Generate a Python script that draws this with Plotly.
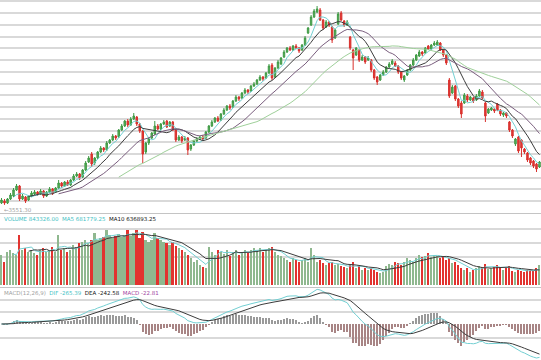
import pandas as pd
import plotly.graph_objects as go

opens = [
    3570,3590,3570,3610,3640,3700,3740,3610,3630,3600,
    3640,3660,3680,3660,3690,3640,3680,3710,3680,3720,
    3770,3740,3780,3750,3800,3840,3860,3830,3900,3980,
    4060,3970,4020,4080,4120,4100,4170,4200,4240,4230,
    4300,4340,4390,4350,4410,4430,4360,4290,4080,4170,
    4220,4260,4340,4310,4360,4390,4340,4380,4300,4200,
    4230,4200,4220,4110,4150,4190,4210,4230,4220,4280,
    4340,4380,4420,4400,4460,4500,4540,4530,4590,4630,
    4620,4670,4700,4690,4740,4760,4800,4830,4820,4870,
    4950,4830,4920,4960,5030,5080,5120,5100,5140,5120,
    5100,5150,5270,5350,5430,5480,5500,5400,5330,5380,
    5330,5220,5360,5470,5390,5350,5230,5100,5050,5100,
    5000,5030,5000,5000,4900,4830,4800,4850,4880,4930,
    4960,4970,4940,4880,4800,4850,4900,4950,5000,5040,
    5080,5070,5140,5110,5150,5150,5170,5100,5050,4800,
    4670,4740,4610,4570,4570,4640,4600,4620,4600,4640,
    4680,4570,4470,4500,4510,4560,4500,4450,4470,4380,
    4300,4160,4230,4200,4110,4070,4020,3990,3960,3930,
]
closes = [
    3600,3570,3610,3650,3700,3740,3610,3640,3590,3640,
    3670,3680,3660,3690,3640,3680,3710,3670,3720,3770,
    3740,3780,3750,3800,3840,3860,3820,3900,3970,4020,
    3960,4020,4080,4120,4100,4170,4200,4240,4220,4300,
    4340,4390,4350,4410,4440,4360,4290,4060,4170,4220,
    4270,4340,4310,4360,4380,4330,4380,4300,4200,4230,
    4190,4220,4100,4150,4190,4210,4230,4210,4280,4340,
    4380,4420,4390,4460,4500,4540,4520,4590,4630,4610,
    4670,4700,4680,4740,4760,4800,4830,4810,4870,4940,
    4820,4920,4980,5020,5080,5120,5100,5140,5120,5090,
    5150,5220,5320,5430,5490,5510,5400,5320,5380,5350,
    5200,5300,5460,5400,5350,5380,5120,5020,5120,5000,
    5030,4980,5020,4900,4820,4780,4850,4880,4930,4960,
    4990,4940,4880,4820,4840,4900,4950,5000,5050,5080,
    5060,5120,5110,5150,5170,5180,5100,5050,4970,4640,
    4730,4610,4540,4460,4650,4600,4630,4590,4640,4690,
    4620,4440,4510,4520,4490,4500,4460,4470,4440,4300,
    4240,4210,4090,4120,4080,4000,3970,3940,3910,3980,
]
highs = [
    3620,3610,3620,3670,3720,3760,3750,3660,3640,3650,
    3690,3700,3690,3710,3700,3690,3730,3720,3730,3800,
    3780,3790,3800,3810,3860,3880,3870,3910,3990,4040,
    4080,4030,4090,4140,4130,4190,4210,4260,4250,4310,
    4360,4400,4410,4430,4470,4440,4370,4300,4180,4230,
    4280,4390,4360,4370,4400,4400,4390,4390,4310,4250,
    4240,4240,4230,4160,4200,4230,4240,4250,4290,4350,
    4400,4430,4440,4470,4520,4550,4560,4600,4650,4640,
    4680,4720,4710,4750,4780,4810,4850,4840,4880,4960,
    4970,4930,5000,5030,5100,5130,5140,5150,5160,5130,
    5160,5240,5330,5450,5510,5540,5520,5410,5400,5390,
    5340,5310,5480,5490,5400,5400,5240,5110,5130,5110,
    5050,5040,5040,5010,4910,4840,4860,4900,4940,4980,
    5010,4990,4950,4890,4850,4910,4960,5020,5060,5100,
    5090,5130,5150,5160,5190,5200,5180,5110,5060,4820,
    4750,4750,4620,4590,4670,4660,4640,4630,4660,4710,
    4700,4580,4520,4530,4520,4570,4510,4480,4480,4390,
    4310,4220,4240,4210,4120,4080,4030,4000,3970,3990,
]
lows = [
    3560,3551.3,3560,3600,3630,3690,3590,3600,3570,3590,
    3630,3650,3640,3650,3620,3630,3670,3650,3670,3710,
    3720,3730,3740,3740,3790,3830,3800,3820,3890,3970,
    3930,3950,4010,4070,4080,4090,4160,4190,4200,4220,
    4290,4330,4330,4340,4400,4340,4270,3970,4060,4150,
    4210,4250,4300,4300,4350,4320,4330,4290,4180,4190,
    4170,4190,4050,4090,4140,4180,4200,4200,4210,4270,
    4330,4370,4380,4390,4450,4490,4500,4520,4580,4590,
    4610,4660,4660,4680,4730,4750,4790,4790,4810,4860,
    4800,4820,4910,4950,5020,5070,5090,5090,5110,5070,
    5090,5140,5260,5340,5420,5470,5390,5300,5320,5330,
    5170,5210,5350,5390,5330,5340,5100,4900,5040,4980,
    4990,4960,4990,4880,4800,4750,4790,4840,4870,4920,
    4950,4930,4860,4800,4780,4840,4890,4940,4990,5030,
    5040,5060,5100,5100,5140,5140,5090,5030,4950,4620,
    4660,4590,4520,4420,4560,4580,4590,4570,4590,4630,
    4610,4380,4460,4490,4470,4490,4440,4430,4420,4280,
    4220,4140,4070,4030,4060,3980,3950,3920,3880,3920,
]
# volume, thousands
volumes = [
    1260,966,1386,1470,1344,1260,2100,1470,1554,1386,
    1470,1344,1260,1470,1554,1386,1470,1596,1386,2100,
    1470,1554,1386,1470,1680,1596,1764,1806,1890,1764,
    1890,2184,1890,1974,2016,2310,2100,1974,2058,2142,
    2016,2100,2310,2058,2184,2310,1974,2226,1890,1806,
    1890,2184,1974,1890,1806,1764,1680,1806,1638,1554,
    1470,1386,1260,1134,966,1050,840,756,714,1596,
    1386,1260,1470,1386,1302,1470,1218,1386,1470,1260,
    1386,1470,1344,1470,1554,1470,1554,1386,1470,1554,
    1596,1386,1260,1218,1134,1050,966,1134,1050,966,
    1050,1134,966,1554,1260,966,1050,924,840,924,
    966,840,882,798,756,714,840,966,714,798,
    630,714,630,714,630,546,504,546,798,882,
    840,966,924,840,966,1134,1050,966,1134,1260,
    1176,1218,1344,1176,1260,1218,1134,1176,1050,1134,
    924,966,840,714,630,714,546,630,714,798,
    760,900,660,720,760,820,740,650,720,800,
    600,560,640,590,560,620,640,600,710,843.326,
]

vol_label = ('<span style="color:#3fbfc4">VOLUME 843326.00</span>  '
             '<span style="color:#3fbfc4">MA5 681779.25</span>  '
             '<span style="color:#111111">MA10 636893.25</span>')
macd_label = ('<span style="color:#a0a0a0">MACD(12,26,9)</span>  '
              '<span style="color:#3fbfc4">DIF -265.39</span>  '
              '<span style="color:#111111">DEA -242.58</span>  '
              '<span style="color:#a23fa2">MACD -22.81</span>')
low_label = "←3551.30"

n = len(closes)
x = list(range(n))
cs = pd.Series(closes, dtype=float)
vs = pd.Series(volumes, dtype=float)
ma_specs = [(5, "#72cfd2"), (10, "#3c3c3c"), (20, "#7a5e7e"), (40, "#9fd09a")]
vma5 = vs.rolling(5).mean()
vma10 = vs.rolling(10).mean()
ema12 = cs.ewm(span=12, adjust=False).mean()
ema26 = cs.ewm(span=26, adjust=False).mean()
dif = ema12 - ema26
dea = dif.ewm(span=9, adjust=False).mean()
hist = 2 * (dif - dea)

up = [c >= o for o, c in zip(opens, closes)]
vol_colors = ["#8fb88f" if u else "#e2332f" for u in up]
hist_colors = ["#9a9a9a" if h >= 0 else "#a88585" for h in hist]

fig = go.Figure()
fig.add_trace(go.Candlestick(
    x=x, open=opens, high=highs, low=lows, close=closes,
    increasing=dict(line=dict(color="#3f9a45", width=1), fillcolor="#5fb062"),
    decreasing=dict(line=dict(color="#d8302c", width=1), fillcolor="#e23a36"),
    whiskerwidth=0, hoverinfo="skip", showlegend=False,
    xaxis="x", yaxis="y"))
for w, col in ma_specs:
    fig.add_trace(go.Scatter(x=x, y=cs.rolling(w).mean(), mode="lines",
                             line=dict(color=col, width=1), hoverinfo="skip",
                             showlegend=False, xaxis="x", yaxis="y"))

fig.add_trace(go.Bar(x=x, y=volumes, marker=dict(color=vol_colors, line=dict(width=0)),
                     width=0.55, showlegend=False, hoverinfo="skip",
                     xaxis="x2", yaxis="y2"))
fig.add_trace(go.Scatter(x=x, y=vma5, mode="lines", line=dict(color="#72cfd2", width=1),
                         showlegend=False, hoverinfo="skip", xaxis="x2", yaxis="y2"))
fig.add_trace(go.Scatter(x=x, y=vma10, mode="lines", line=dict(color="#3c3c3c", width=1),
                         showlegend=False, hoverinfo="skip", xaxis="x2", yaxis="y2"))

fig.add_trace(go.Bar(x=x, y=hist, marker=dict(color=hist_colors, line=dict(width=0)),
                     width=0.35, showlegend=False, hoverinfo="skip",
                     xaxis="x3", yaxis="y3"))
fig.add_trace(go.Scatter(x=x, y=dif, mode="lines", line=dict(color="#72cfd2", width=1),
                         showlegend=False, hoverinfo="skip", xaxis="x3", yaxis="y3"))
fig.add_trace(go.Scatter(x=x, y=dea, mode="lines", line=dict(color="#3c3c3c", width=1),
                         showlegend=False, hoverinfo="skip", xaxis="x3", yaxis="y3"))

H = 360.0
def dom(top_px, bot_px):
    return [(H - bot_px) / H, (H - top_px) / H]

# MACD scaling
lo = min(dif.min(), dea.min())
ppx = -lo / 34.0
macd_range = [-(360 - 324) * ppx, (324 - 288) * ppx]
macd_grid = [(324 - 300) * ppx, (324 - 312) * ppx, -(338 - 324) * ppx]

grid = "#d9d9d9"
xcommon = dict(range=[-0.5, n - 0.5], showgrid=False, zeroline=False,
               showticklabels=False, ticks="", fixedrange=True)
fig.update_layout(
    width=541, height=360, margin=dict(l=0, r=0, t=0, b=0),
    paper_bgcolor="white", plot_bgcolor="white", bargap=0,
    font=dict(family="DejaVu Sans", size=5),
    xaxis=dict(**xcommon, domain=[0, 1], anchor="y", rangeslider=dict(visible=False),
               showline=True, linecolor="#c4c4c4", linewidth=1),
    xaxis2=dict(**xcommon, domain=[0, 1], anchor="y2",
                showline=True, linecolor="#c4c4c4", linewidth=1),
    xaxis3=dict(**xcommon, domain=[0, 1], anchor="y3"),
    yaxis=dict(domain=dom(0, 213), range=[3470, 5600], tickmode="linear",
               tick0=5470, dtick=117.5, showgrid=True, gridcolor=grid, gridwidth=2,
               showticklabels=False, zeroline=False, ticks="", fixedrange=True,
               showline=True, linecolor="#7a7a7a", linewidth=3),
    yaxis2=dict(domain=dom(213, 287), range=[-84, 3024], tickmode="array",
                tickvals=[1176, 1764, 2352], showgrid=True, gridcolor=grid, gridwidth=2,
                showticklabels=False, zeroline=False, ticks="", fixedrange=True,
                showline=True, linecolor="#7a7a7a", linewidth=3),
    yaxis3=dict(domain=dom(288, 360), range=macd_range, tickmode="array",
                tickvals=macd_grid, showgrid=True, gridcolor=grid, gridwidth=2,
                showticklabels=False, zeroline=False, ticks="", fixedrange=True,
                showline=True, linecolor="#7a7a7a", linewidth=3),
    annotations=[
        dict(text=vol_label, x=0.004, y=dom(213, 222)[1] - 1 / H, xref="paper", yref="paper",
             xanchor="left", yanchor="top", showarrow=False, font=dict(size=5.5)),
        dict(text=macd_label, x=0.004, y=dom(287, 296)[1] - 1 / H, xref="paper", yref="paper",
             xanchor="left", yanchor="top", showarrow=False, font=dict(size=5.5)),
        dict(text=low_label, x=0, y=min(lows), xref="x", yref="y",
             xanchor="left", yanchor="top", showarrow=False,
             font=dict(size=5.5, color="#a0a0a0")),
    ],
)
fig.write_html("out.html", config={"displayModeBar": False},
               post_script="document.body.style.margin='0';document.body.style.overflow='hidden';")
